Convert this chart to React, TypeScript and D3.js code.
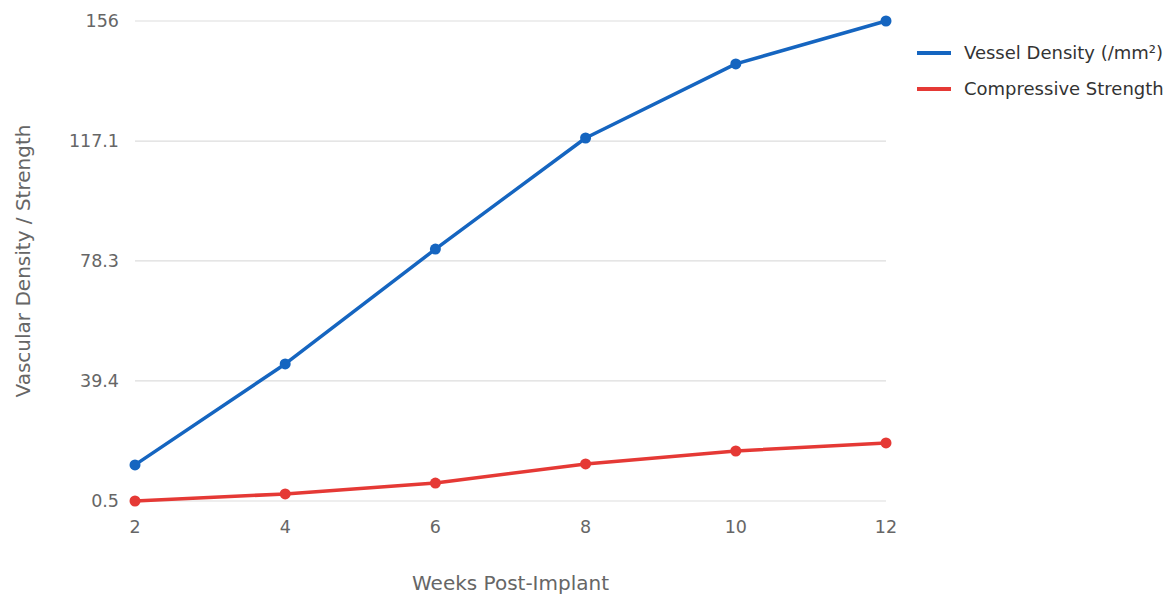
import React from "react";
import * as d3 from "d3";

const weeks = [2, 4, 6, 8, 10, 12];
const vesselDensity = [12.2, 44.9, 82.1, 118.1, 142.1, 156];
const compressiveStrength = [0.5, 2.8, 6.3, 12.5, 16.7, 19.3];
const yTicks = [0.5, 39.4, 78.3, 117.1, 156];
const seriesNames = ["Vessel Density (/mm²)", "Compressive Strength"];
const seriesColors = ["#1565c0", "#e53935"];

const W = 1172, H = 597;
const M = { left: 135, right: 886, top: 21, bottom: 501 };
const font = "'DejaVu Sans', Verdana, sans-serif";

export default function App() {
  const x = d3.scaleLinear().domain([2, 12]).range([M.left, M.right]);
  const y = d3.scaleLinear().domain([0.5, 156]).range([M.bottom, M.top]);
  const line = d3.line<number>()
    .x((_, i) => x(weeks[i]))
    .y((d) => y(d));
  const series = [vesselDensity, compressiveStrength];
  return (
    <svg width={W} height={H} style={{ position: "absolute", left: 0, top: 0, background: "#fff", fontFamily: font }}>
      {yTicks.map((t) => (
        <g key={t}>
          <line x1={M.left} x2={M.right} y1={y(t)} y2={y(t)} stroke="#dddddd" strokeWidth={1.2} />
          <text x={M.left - 16} y={y(t)} dy="0.35em" textAnchor="end" fontSize={17.5} fill="#666">{t}</text>
        </g>
      ))}
      {weeks.map((w) => (
        <text key={w} x={x(w)} y={533} textAnchor="middle" fontSize={17.5} fill="#666">{w}</text>
      ))}
      <text x={(M.left + M.right) / 2} y={590} textAnchor="middle" fontSize={20} fill="#666">Weeks Post-Implant</text>
      <text transform={`translate(30,${(M.top + M.bottom) / 2}) rotate(-90)`} textAnchor="middle" fontSize={20} fill="#666">Vascular Density / Strength</text>
      {series.map((s, si) => (
        <g key={si}>
          <path d={line(s) || ""} fill="none" stroke={seriesColors[si]} strokeWidth={3.5} strokeLinejoin="round" />
          {s.map((v, i) => (
            <circle key={i} cx={x(weeks[i])} cy={y(v)} r={5.5} fill={seriesColors[si]} />
          ))}
        </g>
      ))}
      {seriesNames.map((n, i) => (
        <g key={n} transform={`translate(917,${53 + i * 36})`}>
          <line x1={0} x2={34} y1={0} y2={0} stroke={seriesColors[i]} strokeWidth={4} />
          <text x={47} y={0} dy="0.35em" fontSize={18} fill="#333">{n}</text>
        </g>
      ))}
    </svg>
  );
}
